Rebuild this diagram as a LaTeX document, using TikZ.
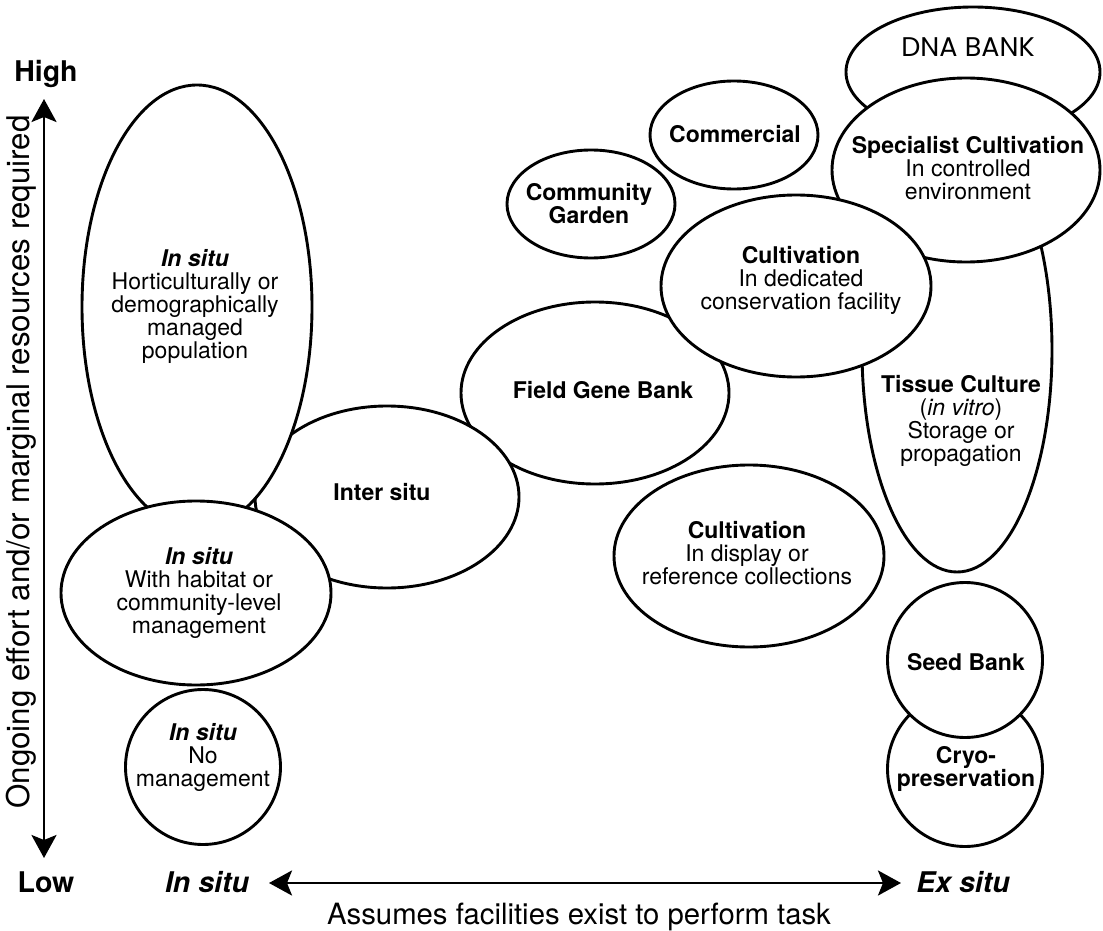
\documentclass[tikz,border=0pt]{standalone}
\usepackage{fontspec}
\setmainfont{TeX Gyre Heros}
\newfontfamily\handfont{Poppins}
\usetikzlibrary{shapes.geometric,arrows.meta}

\begin{document}
\begin{tikzpicture}[
        x=1pt, y=-1pt,
        bubble/.style={shape=ellipse, draw=black, line width=2.9pt, fill=white, inner sep=0pt},
        disc/.style={shape=circle, draw=black, line width=2.9pt, fill=white, inner sep=0pt, minimum size=155pt},
        txt/.style={align=center, font=\fontsize{23}{23}\selectfont, inner sep=0pt},
        heading/.style={font=\fontsize{28.5}{30}\selectfont\bfseries, inner sep=0pt},
        axis/.style={line width=2.8pt, {Stealth[length=23pt,width=25pt,inset=5pt]}-{Stealth[length=23pt,width=25pt,inset=5pt]}},
    ]
    \useasboundingbox (0,0) rectangle (1103,931);

    \node[bubble, minimum width=254pt, minimum height=130pt] (dna) at (973, 72) {};
    \node[bubble, minimum width=190pt, minimum height=444pt] (tissue) at (957, 350) {};
    \node[bubble, minimum width=268pt, minimum height=184pt] (special) at (966, 170) {};
    \node[bubble, minimum width=268pt, minimum height=182pt] (fieldbank) at (595, 393) {};
    \node[bubble, minimum width=270pt, minimum height=182pt] (dedicated) at (796, 286) {};
    \node[bubble, minimum width=264pt, minimum height=182pt] (inter) at (387, 497) {};
    \node[bubble, minimum width=230pt, minimum height=444pt] (horti) at (197, 307) {};
    \node[bubble, minimum width=270pt, minimum height=184pt] (habitat) at (196, 593) {};
    \node[bubble, minimum width=168pt, minimum height=108pt] (commercial) at (734, 135) {};
    \node[bubble, minimum width=168pt, minimum height=108pt] (community) at (591, 204) {};
    \node[bubble, minimum width=270pt, minimum height=182pt] (display) at (749, 556) {};
    \node[disc] (cryo) at (965, 769) {};
    \node[disc] (seed) at (965, 660) {};
    \node[disc] (nomgmt) at (203, 767) {};

    \node[inner sep=0pt, font=\handfont\fontsize{27}{27}\selectfont] (dnatxt) at (968, 47) {DNA BANK};
    \node[txt] (tissuetxt) at (961, 421) {\textbf{Tissue Culture}\\(\textit{in vitro})\\Storage or\\propagation};
    \node[txt] (specialtxt) at (968, 168) {\textbf{Specialist Cultivation}\\In controlled\\environment};
    \node[txt] (fieldbanktxt) at (603, 390) {\textbf{Field Gene Bank}};
    \node[txt] (dedicatedtxt) at (801, 280) {\textbf{Cultivation}\\In dedicated\\conservation facility};
    \node[txt] (intertxt) at (382, 492) {\textbf{Inter situ}};
    \node[txt] (hortitxt) at (195, 306) {\textbf{\textit{In situ}}\\Horticulturally or\\demographically\\managed\\population};
    \node[txt] (habitattxt) at (199, 593) {\textbf{\textit{In situ}}\\With habitat or\\community-level\\management};
    \node[txt] (commercialtxt) at (735, 134) {\textbf{Commercial}};
    \node[txt] (communitytxt) at (589, 204) {\textbf{Community}\\\textbf{Garden}};
    \node[txt] (displaytxt) at (747, 553) {\textbf{Cultivation}\\In display or\\reference collections};
    \node[txt] (cryotxt) at (966, 769) {\textbf{Cryo-}\\\textbf{preservation}};
    \node[txt] (seedtxt) at (966, 662) {\textbf{Seed Bank}};
    \node[txt] (nomgmttxt) at (203, 757) {\textbf{\textit{In situ}}\\No\\management};

    \node[heading] (high) at (46, 74) {High};
    \node[heading] (low) at (46, 882) {Low};
    \node[heading] (insitu) at (207, 882) {\itshape In situ};
    \node[heading] (exsitu) at (963, 882) {\itshape Ex situ};
    \node[inner sep=0pt, font=\fontsize{29.3}{30}\selectfont] (xlabel) at (579, 917) {Assumes facilities exist to perform task};
    \node[inner sep=0pt, rotate=90, font=\fontsize{31.3}{32}\selectfont] (ylabel) at (21, 462) {Ongoing effort and/or marginal resources required};

    \coordinate (ytop) at (44, 99);
    \coordinate (ybot) at (44, 858);
    \coordinate (xleft) at (269, 883);
    \coordinate (xright) at (901, 883);
    \draw[axis] (ybot) -- (ytop);
    \draw[axis] (xleft) -- (xright);
\end{tikzpicture}
\end{document}
